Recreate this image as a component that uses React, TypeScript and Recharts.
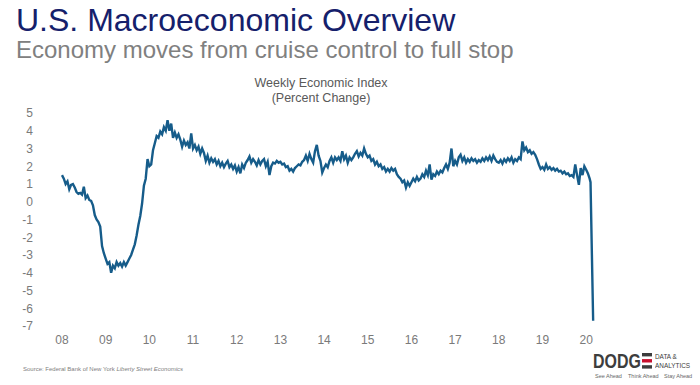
import { LineChart, Line, XAxis, YAxis } from "recharts";

// Weekly Economic Index, % change (semi-monthly samples)
const years = [2008, 2009, 2010, 2011, 2012, 2013, 2014, 2015, 2016, 2017, 2018, 2019];

const wei2008 = [1.5, 1.3, 1.0, 1.15, 0.7, 0.95, 1.0, 0.8, 0.55, 0.45, 0.5, 0.4, 0.85, 0.2, 0.35, 0.1, 0.05, -0.2, -0.75, -1.0, -1.15, -1.4, -2.5, -2.9];
const wei2009 = [-3.2, -3.5, -3.4, -4.0, -3.6, -3.75, -3.4, -3.6, -3.45, -3.65, -3.4, -3.6, -3.4, -3.2, -3.0, -2.7, -2.4, -1.9, -1.3, -0.8, -0.1, 0.9, 1.3, 2.4];
const wei2010 = [2.0, 2.1, 2.9, 3.3, 3.7, 3.6, 3.95, 3.8, 4.2, 4.0, 4.6, 4.0, 4.4, 3.6, 3.9, 3.6, 3.8, 3.5, 3.1, 3.45, 3.2, 3.35, 3.0, 3.85];
const wei2011 = [3.0, 3.2, 2.9, 3.1, 2.7, 3.0, 2.75, 2.3, 2.6, 2.2, 2.45, 2.25, 2.4, 2.1, 2.3, 2.0, 2.2, 1.95, 2.15, 2.3, 1.95, 2.1, 1.85, 2.05];
const wei2012 = [1.7, 1.95, 1.6, 2.1, 1.9, 2.2, 2.35, 2.55, 2.2, 2.4, 2.25, 2.05, 2.35, 2.1, 2.3, 2.4, 2.0, 2.25, 1.5, 2.0, 2.2, 2.15, 2.3, 2.2];
const wei2013 = [2.25, 2.1, 2.15, 1.95, 2.0, 1.75, 1.85, 1.7, 1.9, 2.0, 2.1, 2.05, 2.25, 2.35, 2.6, 2.3, 2.7, 2.4, 2.2, 2.85, 3.2, 2.6, 2.3, 1.65];
const wei2014 = [1.9, 2.1, 1.95, 2.3, 2.5, 2.2, 2.5, 2.35, 2.5, 2.3, 2.85, 2.4, 2.6, 2.2, 2.5, 2.35, 2.5, 2.7, 2.85, 2.55, 2.75, 2.6, 3.0, 2.7];
const wei2015 = [2.5, 2.6, 2.3, 2.4, 2.1, 2.25, 2.0, 2.1, 1.85, 1.95, 1.7, 1.85, 1.7, 1.9, 1.75, 1.85, 1.55, 1.4, 1.3, 1.1, 1.2, 0.8, 1.1, 0.9];
const wei2016 = [1.1, 1.3, 1.15, 1.4, 1.2, 1.3, 1.55, 1.4, 1.75, 1.5, 2.1, 1.25, 1.55, 1.45, 1.7, 1.55, 1.75, 1.65, 1.9, 2.1, 1.85, 2.2, 3.0, 2.0];
const wei2017 = [2.3, 2.1, 2.5, 2.65, 2.3, 2.5, 2.2, 2.4, 2.25, 2.45, 2.3, 2.4, 2.2, 2.35, 2.25, 2.45, 2.3, 2.5, 2.35, 2.55, 2.3, 2.6, 2.4, 2.25];
const wei2018 = [2.2, 2.35, 2.15, 2.4, 2.25, 2.45, 2.3, 2.5, 2.2, 2.4, 2.3, 2.5, 2.4, 3.4, 2.9, 3.05, 2.8, 2.9, 2.7, 2.8, 2.65, 2.4, 2.1, 1.85];
const wei2019 = [1.95, 1.8, 2.1, 1.85, 1.95, 1.8, 1.9, 1.75, 1.85, 1.7, 1.75, 1.6, 1.7, 1.55, 1.6, 1.45, 1.5, 1.4, 2.1, 1.5, 0.95, 1.9, 1.5, 2.0];

// early 2020, weekly around the collapse
const dates2020 = [2020.0, 2020.04, 2020.08, 2020.1, 2020.16];
const wei2020 = [1.8, 1.6, 1.3, 1.1, -6.7];

const yearTicks = [2008, 2009, 2010, 2011, 2012, 2013, 2014, 2015, 2016, 2017, 2018, 2019, 2020];
const valueTicks = [5, 4, 3, 2, 1, 0, -1, -2, -3, -4, -5, -6, -7];

const yearly = [wei2008, wei2009, wei2010, wei2011, wei2012, wei2013, wei2014, wei2015, wei2016, wei2017, wei2018, wei2019];

const data = [
  ...yearly.flatMap((vals, yi) => vals.map((v, i) => ({ t: years[yi] + i / vals.length, v }))),
  ...wei2020.map((v, i) => ({ t: dates2020[i], v })),
];

const font = '"Liberation Sans", Arial, sans-serif';
const tick = { fontSize: 12, fill: "#7a7a7a", fontFamily: font };
const slogan = { position: "absolute" as const, top: 373, fontSize: 5.5, color: "#666", whiteSpace: "nowrap" as const };

export default function App() {
  return (
    <div style={{ position: "absolute", left: 0, top: 0, width: 700, height: 385, background: "#fff", fontFamily: font, overflow: "hidden" }}>
      <div style={{ position: "absolute", left: 16, top: 2, fontSize: 32, color: "#15206b", whiteSpace: "nowrap" }}>
        U.S. Macroeconomic Overview
      </div>
      <div style={{ position: "absolute", left: 16, top: 36, fontSize: 24, color: "#808080", whiteSpace: "nowrap" }}>
        Economy moves from cruise control to full stop
      </div>
      <div style={{ position: "absolute", left: 221, width: 200, top: 76, fontSize: 12.5, color: "#595959", textAlign: "center", lineHeight: "15px" }}>
        Weekly Economic Index
        <br />
        (Percent Change)
      </div>

      <div style={{ position: "absolute", left: 0, top: 0 }}>
        <LineChart width={700} height={385} data={data} margin={{ top: 113, right: 92, bottom: 29, left: 0 }}>
          <XAxis
            dataKey="t"
            type="number"
            domain={[2008, 2020.5]}
            ticks={yearTicks}
            tickFormatter={(v: number) => String(v).slice(2)}
            axisLine={false}
            tickLine={false}
            tickSize={0}
            tickMargin={9}
            height={30}
            tick={tick}
            interval={0}
          />
          <YAxis
            type="number"
            domain={[-7, 5]}
            ticks={valueTicks}
            axisLine={false}
            tickLine={false}
            tickSize={0}
            tickMargin={29}
            width={62}
            tick={tick}
            interval={0}
          />
          <Line type="linear" dataKey="v" stroke="#165c8a" strokeWidth={2.4} dot={false} isAnimationActive={false} />
        </LineChart>
      </div>

      <div style={{ position: "absolute", left: 23, top: 366, fontSize: 6, color: "#808080", whiteSpace: "nowrap" }}>
        Source: Federal Bank of New York <i>Liberty Street Economics</i>
      </div>

      {/* Dodge logo */}
      <div style={{ position: "absolute", left: 593, top: 350, display: "flex", alignItems: "flex-start" }}>
        <div style={{ width: 49, overflow: "visible" }}>
          <div style={{ fontWeight: 700, fontSize: 21, color: "#3d3d3d", lineHeight: "21px", transform: "scaleX(0.76)", transformOrigin: "left top", whiteSpace: "nowrap" }}>
            DODG
          </div>
        </div>
        <svg width={11} height={16} style={{ marginTop: 3 }}>
          <rect x={0} y={0} width={10} height={3.4} fill="#3d3d3d" />
          <rect x={0} y={6.1} width={10} height={3.4} fill="#c8102e" />
          <rect x={0} y={12.2} width={10} height={3.4} fill="#3d3d3d" />
        </svg>
        <div style={{ marginLeft: 2, marginTop: 2, fontSize: 8, color: "#3d3d3d", lineHeight: "9px", transform: "scaleX(0.8)", transformOrigin: "left top", whiteSpace: "nowrap" }}>
          DATA &amp;
          <br />
          ANALYTICS
        </div>
      </div>
      <div style={{ ...slogan, left: 595 }}>See Ahead</div>
      <div style={{ ...slogan, left: 628 }}>Think Ahead</div>
      <div style={{ ...slogan, left: 664 }}>Stay Ahead</div>
    </div>
  );
}
